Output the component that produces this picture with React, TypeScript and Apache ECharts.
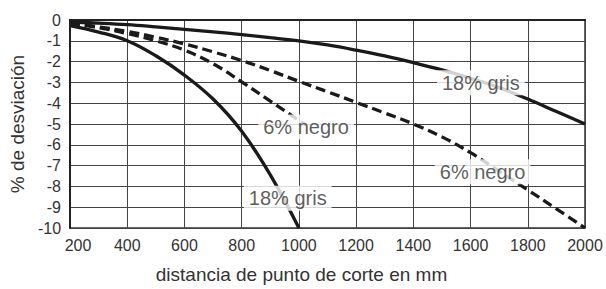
import React, { useEffect, useRef } from "react";
import * as echarts from "echarts";

const xTicks = [200, 400, 600, 800, 1000, 1200, 1400, 1600, 1800, 2000];

// 18% gris (far curve, solid)
const grisFarX = [200, 300, 400, 500, 600, 700, 800, 900, 1000, 1100, 1200, 1300, 1400, 1500, 1600, 1700, 1800, 1900, 2000];
const grisFarY = [-0.1, -0.15, -0.22, -0.33, -0.45, -0.57, -0.7, -0.85, -1.0, -1.2, -1.45, -1.73, -2.05, -2.4, -2.8, -3.25, -3.8, -4.4, -5.0];

// 6% negro (far curve, dashed)
const negroFarX = [200, 300, 400, 500, 600, 700, 800, 900, 1000, 1100, 1200, 1300, 1400, 1500, 1600, 1700, 1800, 1900, 2000];
const negroFarY = [-0.15, -0.33, -0.55, -0.83, -1.15, -1.53, -1.95, -2.43, -2.95, -3.45, -3.96, -4.47, -5.0, -5.62, -6.38, -7.27, -8.17, -9.08, -10.0];

// 6% negro (near curve, dashed)
const negroNearX = [200, 300, 400, 500, 600, 700, 800, 900, 1000, 1025];
const negroNearY = [-0.15, -0.37, -0.65, -1.0, -1.45, -2.1, -2.97, -3.9, -4.83, -5.06];

// 18% gris (near curve, solid)
const grisNearX = [200, 300, 400, 500, 600, 700, 800, 900, 1000];
const grisNearY = [-0.27, -0.58, -1.0, -1.72, -2.65, -3.8, -5.35, -7.45, -10.0];

// in-chart labels
const labelTexts = ["18% gris", "6% negro", "6% negro", "18% gris"];
const labelX = [1636, 1025, 1642, 961];
const labelY = [-3.02, -5.15, -7.3, -8.57];

const zip = (xs: number[], ys: number[]) => xs.map((x, i) => [x, ys[i]]);

export default function App() {
  const ref = useRef<HTMLDivElement>(null);
  useEffect(() => {
    if (!ref.current) return;
    const chart = echarts.init(ref.current, null, { renderer: "svg" });
    const lineColor = "#1a1a1a";
    const font = "'Liberation Sans', Arial, Helvetica, sans-serif";
    const lineSeries = (xs: number[], ys: number[], dashed: boolean) => ({
      type: "line",
      data: zip(xs, ys),
      smooth: 0.4,
      symbol: "none",
      lineStyle: dashed
        ? { color: lineColor, width: 3.3, type: [10, 5] }
        : { color: lineColor, width: 3.3 },
      z: 3,
    });
    chart.setOption({
      animation: false,
      grid: {
        left: 67,
        right: 21,
        top: 20,
        bottom: 54,
        show: true,
        borderColor: "#333",
        borderWidth: 1.5,
        backgroundColor: "#fff",
      },
      xAxis: {
        type: "value",
        min: 200,
        max: 2000,
        interval: 200,
        name: "distancia de punto de corte en mm",
        nameLocation: "middle",
        nameGap: 37,
        nameTextStyle: { fontSize: 19, color: "#333", fontFamily: font, padding: [0, 52, 0, 0] },
        axisLine: { show: true, lineStyle: { color: "#222", width: 2 } },
        axisTick: { show: false },
        axisLabel: {
          fontSize: 16,
          color: "#333",
          fontFamily: font,
          margin: 9,
          formatter: (v: number) =>
            v === xTicks[0] ? "{first|" + v + "}" : xTicks.includes(v) ? String(v) : "",
          rich: {
            first: { fontSize: 16, color: "#333", fontFamily: font, padding: [0, 0, 0, 16] },
          },
        },
        splitLine: { show: true, lineStyle: { color: "#444", width: 1 } },
      },
      yAxis: {
        type: "value",
        min: -10,
        max: 0,
        interval: 1,
        name: "% de desviación",
        nameLocation: "middle",
        nameGap: 31,
        nameTextStyle: { fontSize: 19, color: "#333", fontFamily: font },
        axisLine: { show: true, lineStyle: { color: "#222", width: 2 } },
        axisTick: { show: false },
        axisLabel: { fontSize: 16, color: "#333", fontFamily: font, margin: 9 },
        splitLine: { show: true, lineStyle: { color: "#444", width: 1 } },
      },
      series: [
        lineSeries(grisFarX, grisFarY, false),
        lineSeries(negroFarX, negroFarY, true),
        lineSeries(negroNearX, negroNearY, true),
        lineSeries(grisNearX, grisNearY, false),
        {
          type: "scatter",
          symbolSize: 1,
          itemStyle: { color: "rgba(0,0,0,0)" },
          z: 10,
          data: labelTexts.map((t, i) => ({ name: t, value: [labelX[i], labelY[i]] })),
          label: {
            show: true,
            position: "inside",
            formatter: "{b}",
            fontSize: 20,
            color: "#333",
            fontFamily: font,
            backgroundColor: "#fff",
            padding: [3, 5, 2, 5],
          },
        },
      ],
    });
    return () => chart.dispose();
  }, []);
  return (
    <div
      ref={ref}
      style={{ position: "fixed", left: 0, top: 0, width: 606, height: 289, background: "#fff" }}
    />
  );
}
